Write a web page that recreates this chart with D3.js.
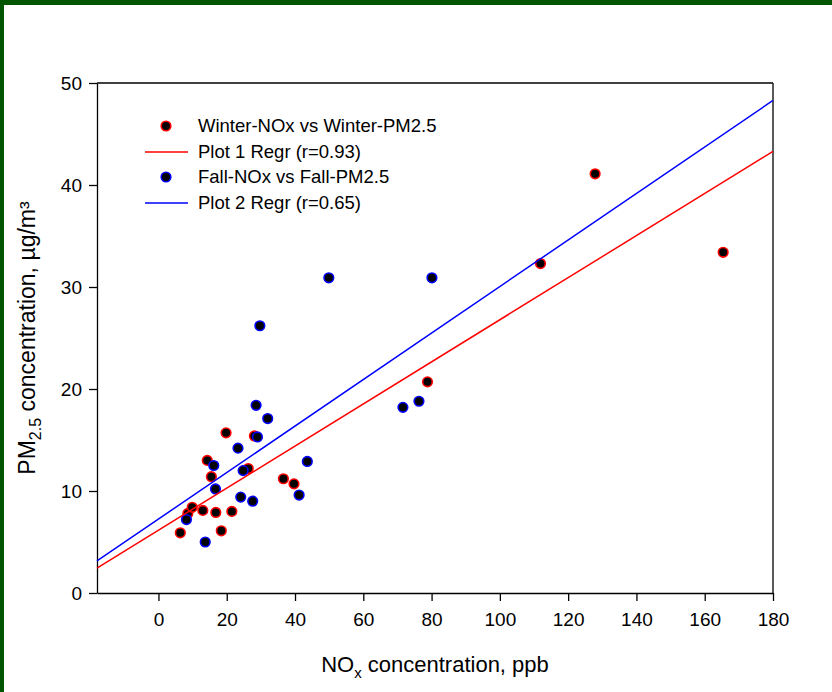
<!DOCTYPE html>
<html>
<head>
<meta charset="utf-8">
<script src="https://cdn.jsdelivr.net/npm/d3@7"></script>
<style>
  html, body { margin: 0; padding: 0; background: #fff; }
  svg { display: block; font-family: "Liberation Sans", Arial, sans-serif; }
</style>
</head>
<body>
<div id="chart"></div>
<script>
const width = 832;
const height = 692;

// winter data (NOx ppb, PM2.5 ug/m3)
const winterNox = [6.4, 8.6, 9.9, 13.0, 16.8, 21.5, 18.4, 14.3, 15.5, 19.8, 28.1, 26.3, 36.6, 39.7, 78.8, 111.9, 127.9, 165.4];
const winterPm  = [5.9, 7.8, 8.4, 8.1, 7.9, 8.0, 6.1, 13.0, 11.4, 15.7, 15.4, 12.2, 11.2, 10.7, 20.7, 32.3, 41.1, 33.4];

// fall data
const fallNox = [8.2, 13.7, 16.2, 16.7, 23.3, 24.8, 24.1, 27.6, 29.0, 28.6, 32.0, 29.7, 43.6, 41.2, 49.9, 71.6, 76.3, 80.1];
const fallPm  = [7.2, 5.0, 12.5, 10.2, 14.2, 12.0, 9.4, 9.0, 15.3, 18.4, 17.1, 26.2, 12.9, 9.6, 30.9, 18.2, 18.8, 30.9];

// regression lines: [intercept, slope]
const winterRegr = [6.16, 0.2063];
const fallRegr = [7.25, 0.228];

const xTicks = [0, 20, 40, 60, 80, 100, 120, 140, 160, 180];
const yTicks = [0, 10, 20, 30, 40, 50];

const legendLabels = ["Winter-NOx vs Winter-PM2.5", "Plot 1 Regr (r=0.93)", "Fall-NOx vs Fall-PM2.5", "Plot 2 Regr (r=0.65)"];

const margin = {left: 97, right: 773, top: 83, bottom: 593};

const svg = d3.select("#chart").append("svg")
  .attr("width", width)
  .attr("height", height);

// green frame on top and left
svg.append("rect").attr("x", 0).attr("y", 0).attr("width", width).attr("height", 5).attr("fill", "#005500");
svg.append("rect").attr("x", 0).attr("y", 0).attr("width", 4).attr("height", height).attr("fill", "#005500");

const x = d3.scaleLinear().domain([-18, 180]).range([margin.left, margin.right]);
const y = d3.scaleLinear().domain([0, 50]).range([margin.bottom, margin.top]);

// axes
const xAxis = svg.append("g")
  .attr("transform", "translate(0," + margin.bottom + ")")
  .call(d3.axisBottom(x).tickValues(xTicks).tickSize(8).tickSizeOuter(0).tickPadding(12));
const yAxis = svg.append("g")
  .attr("transform", "translate(" + margin.left + ",0)")
  .call(d3.axisLeft(y).tickValues(yTicks).tickSize(8).tickSizeOuter(0).tickPadding(7));

[xAxis, yAxis].forEach(function(g) {
  g.selectAll("path").attr("stroke", "#000").attr("stroke-width", 1.3);
  g.selectAll("line").attr("stroke", "#000").attr("stroke-width", 1.3);
  g.selectAll("text").attr("fill", "#000").attr("font-size", 19)
    .attr("font-family", "Liberation Sans, Arial, sans-serif");
});
yAxis.selectAll("text").attr("dy", "0.35em");

// top and right frame lines
svg.append("line")
  .attr("x1", x(-18)).attr("x2", x(180)).attr("y1", y(50)).attr("y2", y(50))
  .attr("stroke", "#000").attr("stroke-width", 1.3);
svg.append("line")
  .attr("x1", x(180)).attr("x2", x(180)).attr("y1", y(0)).attr("y2", y(50))
  .attr("stroke", "#000").attr("stroke-width", 1.3);

function drawPoints(xs, ys, col) {
  svg.append("g").selectAll("circle")
    .data(xs.map(function(v, i) { return [v, ys[i]]; }))
    .enter()
    .append("circle")
    .attr("cx", function(d) { return x(d[0]); })
    .attr("cy", function(d) { return y(d[1]); })
    .attr("r", 4.8)
    .attr("fill", "#000")
    .attr("stroke", col)
    .attr("stroke-width", 1.6);
}

function drawRegr(coef, col) {
  const line = d3.line()
    .x(function(d) { return x(d); })
    .y(function(d) { return y(coef[0] + coef[1] * d); });
  svg.append("path")
    .datum(x.domain())
    .attr("d", line)
    .attr("fill", "none")
    .attr("stroke", col)
    .attr("stroke-width", 1.5);
}

drawPoints(winterNox, winterPm, "#ff0000");
drawPoints(fallNox, fallPm, "#0000ff");
drawRegr(winterRegr, "#ff0000");
drawRegr(fallRegr, "#0000ff");

// legend
const legendColors = ["#ff0000", "#ff0000", "#0000ff", "#0000ff"];
const legendY = [126, 152, 177, 203];
legendLabels.forEach(function(lab, i) {
  if (i % 2 == 0) {
    svg.append("circle")
      .attr("cx", 166).attr("cy", legendY[i]).attr("r", 4.8)
      .attr("fill", "#000").attr("stroke", legendColors[i]).attr("stroke-width", 1.6);
  } else {
    svg.append("line")
      .attr("x1", 145).attr("x2", 188).attr("y1", legendY[i]).attr("y2", legendY[i])
      .attr("stroke", legendColors[i]).attr("stroke-width", 1.5);
  }
  svg.append("text")
    .attr("x", 198).attr("y", legendY[i])
    .attr("dy", "0.35em")
    .attr("font-size", 18.5)
    .attr("fill", "#000")
    .text(lab);
});

// axis titles
const xTitle = svg.append("text")
  .attr("x", (margin.left + margin.right) / 2)
  .attr("y", 672)
  .attr("text-anchor", "middle")
  .attr("font-size", 22)
  .attr("fill", "#000");
xTitle.append("tspan").text("NO");
xTitle.append("tspan").attr("font-size", 15).attr("dy", 6).text("x");
xTitle.append("tspan").attr("dy", -6).text(" concentration, ppb");

const yTitle = svg.append("text")
  .attr("transform", "translate(35," + (margin.top + margin.bottom) / 2 + ") rotate(-90)")
  .attr("text-anchor", "middle")
  .attr("font-size", 23)
  .attr("fill", "#000");
yTitle.append("tspan").text("PM");
yTitle.append("tspan").attr("font-size", 16).attr("dy", 6).text("2.5");
yTitle.append("tspan").attr("dy", -6).text(" concentration, µg/m³");
</script>
</body>
</html>
